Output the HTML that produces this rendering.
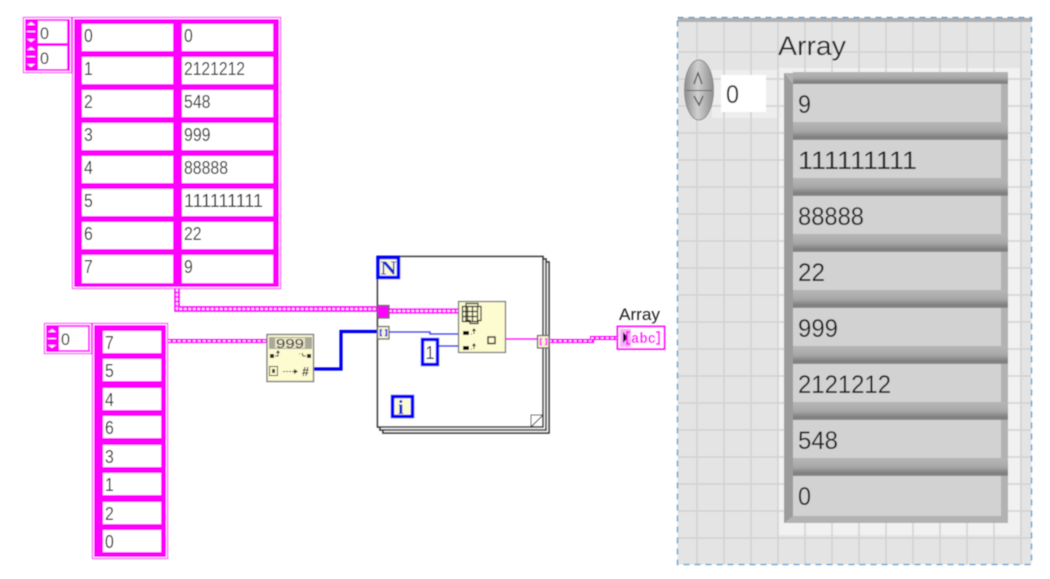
<!DOCTYPE html>
<html><head><meta charset="utf-8"><style>
html,body{margin:0;padding:0;background:#fff;width:1050px;height:579px;overflow:hidden}
svg{display:block}
text{font-family:"Liberation Sans",sans-serif;fill:#1c1c1c}
.t{font-size:18.500px}
.s{font-size:17px}
.p{font-size:25px;fill:#222}
</style></head><body>
<svg width="1050" height="579" viewBox="0 0 1050 579" xmlns="http://www.w3.org/2000/svg">
<defs>
<filter id="b" x="-2%" y="-2%" width="104%" height="104%"><feGaussianBlur stdDeviation="0.4"/></filter>
<linearGradient id="top" x1="0" y1="0" x2="0" y2="1"><stop offset="0" stop-color="#b6b6b6"/><stop offset="0.5" stop-color="#a8a8a8"/><stop offset="0.85" stop-color="#7e7e7e"/><stop offset="1" stop-color="#8c8c8c"/></linearGradient>
<linearGradient id="spin" x1="0" y1="0" x2="1" y2="0"><stop offset="0" stop-color="#8c8c8c"/><stop offset="0.45" stop-color="#d0d0d0"/><stop offset="1" stop-color="#8e8e8e"/></linearGradient>
</defs>
<g filter="url(#b)">
<!-- 2D array index -->
<rect x="23.500" y="17.500" width="48" height="55" fill="#fff" stroke="#ff00ff"/>
<rect x="25" y="19" width="45" height="52" fill="#ff00ff"/>
<rect x="38" y="21" width="29" height="22" fill="#fff"/>
<rect x="38" y="46" width="29" height="23" fill="#fff"/>
<path d="M27 25l4-3 4 3zM27 39l4 3 4-3zM27 50l4-3 4 3zM27 64l4 3 4-3z" fill="#fff"/>
<path d="M27 31.500h8M27 56.500h8" stroke="#fff"/>
<text class="s" x="40" y="39" textLength="9" lengthAdjust="spacingAndGlyphs">0</text><text class="s" x="40" y="64" textLength="9" lengthAdjust="spacingAndGlyphs">0</text>
<!-- 2D array -->
<rect x="72.500" y="17.500" width="208" height="271" fill="#fff" stroke="#ff00ff"/>
<rect x="74" y="19" width="205" height="268" fill="#ff00ff"/>
<g fill="#fff">
<rect x="82" y="24" width="91" height="27"/><rect x="182" y="24" width="91" height="27"/>
<rect x="82" y="57" width="91" height="27"/><rect x="182" y="57" width="91" height="27"/>
<rect x="82" y="90" width="91" height="27"/><rect x="182" y="90" width="91" height="27"/>
<rect x="82" y="123" width="91" height="27"/><rect x="182" y="123" width="91" height="27"/>
<rect x="82" y="156" width="91" height="27"/><rect x="182" y="156" width="91" height="27"/>
<rect x="82" y="189" width="91" height="27"/><rect x="182" y="189" width="91" height="27"/>
<rect x="82" y="222" width="91" height="27"/><rect x="182" y="222" width="91" height="27"/>
<rect x="82" y="255" width="91" height="28"/><rect x="182" y="255" width="91" height="28"/>
</g>
<text class="t" x="84" y="42" textLength="8.800" lengthAdjust="spacingAndGlyphs">0</text><text class="t" x="184" y="42" textLength="8.800" lengthAdjust="spacingAndGlyphs">0</text>
<text class="t" x="84" y="75" textLength="8.800" lengthAdjust="spacingAndGlyphs">1</text><text class="t" x="184" y="75" textLength="61" lengthAdjust="spacingAndGlyphs">2121212</text>
<text class="t" x="84" y="108" textLength="8.800" lengthAdjust="spacingAndGlyphs">2</text><text class="t" x="184" y="108" textLength="26.500" lengthAdjust="spacingAndGlyphs">548</text>
<text class="t" x="84" y="141" textLength="8.800" lengthAdjust="spacingAndGlyphs">3</text><text class="t" x="184" y="141" textLength="26.500" lengthAdjust="spacingAndGlyphs">999</text>
<text class="t" x="84" y="174" textLength="8.800" lengthAdjust="spacingAndGlyphs">4</text><text class="t" x="184" y="174" textLength="44" lengthAdjust="spacingAndGlyphs">88888</text>
<text class="t" x="84" y="207" textLength="8.800" lengthAdjust="spacingAndGlyphs">5</text><text class="t" x="184" y="207" textLength="79" lengthAdjust="spacingAndGlyphs">111111111</text>
<text class="t" x="84" y="240" textLength="8.800" lengthAdjust="spacingAndGlyphs">6</text><text class="t" x="184" y="240" textLength="17.600" lengthAdjust="spacingAndGlyphs">22</text>
<text class="t" x="84" y="273" textLength="8.800" lengthAdjust="spacingAndGlyphs">7</text><text class="t" x="184" y="273" textLength="8.800" lengthAdjust="spacingAndGlyphs">9</text>
<!-- 1D array index -->
<rect x="44.500" y="323.500" width="47" height="30" fill="#fff" stroke="#ff00ff"/>
<rect x="46" y="325" width="44" height="27" fill="#ff00ff"/>
<rect x="59" y="327" width="29" height="23" fill="#fff"/>
<path d="M48 332l4-3 4 3zM48 345l4 3 4-3z" fill="#fff"/><path d="M48 338.500h8" stroke="#fff"/>
<text class="s" x="61" y="345" textLength="9" lengthAdjust="spacingAndGlyphs">0</text>
<!-- 1D array -->
<rect x="92.500" y="323.500" width="75" height="235" fill="#fff" stroke="#ff00ff"/>
<rect x="94" y="325" width="72" height="232" fill="#ff00ff"/>
<g fill="#fff">
<rect x="103" y="331" width="58" height="22"/><rect x="103" y="359" width="58" height="22"/>
<rect x="103" y="388" width="58" height="22"/><rect x="103" y="416" width="58" height="22"/>
<rect x="103" y="445" width="58" height="22"/><rect x="103" y="473" width="58" height="22"/>
<rect x="103" y="502" width="58" height="22"/><rect x="103" y="530" width="58" height="22"/>
</g>
<text class="t" x="105" y="349" textLength="8.800" lengthAdjust="spacingAndGlyphs">7</text><text class="t" x="105" y="377" textLength="8.800" lengthAdjust="spacingAndGlyphs">5</text>
<text class="t" x="105" y="406" textLength="8.800" lengthAdjust="spacingAndGlyphs">4</text><text class="t" x="105" y="434" textLength="8.800" lengthAdjust="spacingAndGlyphs">6</text>
<text class="t" x="105" y="463" textLength="8.800" lengthAdjust="spacingAndGlyphs">3</text><text class="t" x="105" y="491" textLength="8.800" lengthAdjust="spacingAndGlyphs">1</text>
<text class="t" x="105" y="520" textLength="8.800" lengthAdjust="spacingAndGlyphs">2</text><text class="t" x="105" y="548" textLength="8.800" lengthAdjust="spacingAndGlyphs">0</text>
<!-- For loop frames -->
<rect x="383" y="262" width="166" height="171" fill="#fff" stroke="#333" stroke-width="1.600"/>
<rect x="380" y="259" width="166" height="171" fill="#fff" stroke="#333" stroke-width="1.600"/>
<rect x="377.500" y="256.500" width="165.500" height="170.500" fill="#fff" stroke="#333" stroke-width="1.600"/>
<path d="M531 427V415H543M531 427L543 415" fill="#fff" stroke="#333"/>
<!-- wires -->
<path d="M177 289V309H377M389 311H458" fill="none" stroke="#ff00ff" stroke-width="5.500"/>
<path d="M177 289V309H377M389 311H458" fill="none" stroke="#fff" stroke-width="1.700" stroke-dasharray="2.500 2"/>
<path d="M168 341H267" fill="none" stroke="#ff00ff" stroke-width="4"/>
<path d="M168 341H267" fill="none" stroke="#fff" stroke-width="1.200" stroke-dasharray="2.500 2.500"/>
<path d="M549 341H592V338H617" fill="none" stroke="#ff00ff" stroke-width="4"/>
<path d="M549 341H592V338H617" fill="none" stroke="#fff" stroke-width="1.200" stroke-dasharray="2.500 2.500"/>
<path d="M506 339H537" fill="none" stroke="#ff00ff" stroke-width="2"/>
<path d="M314 369H341V331.500H377" fill="none" stroke="#0000ee" stroke-width="3.200"/>
<path d="M389 332H430V334H458M439 346H458" fill="none" stroke="#2222ee" stroke-width="1.500"/>
<!-- Tunnels -->
<rect x="377.500" y="305.500" width="11.500" height="12.500" fill="#ff00ff" stroke="#555" stroke-width="1.300"/>
<rect x="377.500" y="326.500" width="11.500" height="12.500" fill="#f8f4d0" stroke="#666" stroke-width="1.300"/>
<path d="M382 330h-1.500v5.500h1.500M385 330h1.500v5.500h-1.500" fill="none" stroke="#0000ee" stroke-width="1.400"/>
<rect x="537.500" y="335.500" width="11.500" height="12.500" fill="#f8f4d0" stroke="#666" stroke-width="1.300"/>
<path d="M542 339h-1.500v5.500h1.500M545 339h1.500v5.500h-1.500" fill="none" stroke="#ff00ff" stroke-width="1.400"/>
<!-- N box -->
<rect x="378" y="257.500" width="20.500" height="20" fill="#fdfbd5" stroke="#0000ff" stroke-width="3.500"/>
<text x="380.500" y="274.500" style="font-family:'Liberation Serif',serif;font-size:20px;font-weight:bold;fill:#0a28d0" textLength="16" lengthAdjust="spacingAndGlyphs">N</text>
<!-- i box -->
<rect x="392.500" y="396.500" width="20" height="20" fill="#fdfbd5" stroke="#0000ff" stroke-width="3.500"/>
<text x="398" y="414" style="font-family:'Liberation Serif',serif;font-size:20px;font-weight:bold;fill:#0a28d0">i</text>
<!-- constant 1 -->
<rect x="422.500" y="339.500" width="15" height="25" fill="#fff" stroke="#0000ff" stroke-width="3.400"/>
<text x="425.500" y="359" style="font-size:18px" textLength="9" lengthAdjust="spacingAndGlyphs">1</text>
<!-- spreadsheet string node -->
<rect x="267" y="334.500" width="46.500" height="47" fill="#fdfbd0" stroke="#777" stroke-width="1.300"/>
<rect x="269" y="337" width="43" height="12" fill="#a8a89c"/>
<rect x="275" y="338" width="30" height="10" fill="#e8e6c6"/>
<text x="276" y="348" style="font-size:13px;fill:#222" textLength="28" lengthAdjust="spacingAndGlyphs">999</text>
<rect x="270" y="354" width="4" height="4" fill="#222"/><path d="M275 356h3V352M276.500 353l1.500-2 1.500 2" fill="none" stroke="#222"/>
<rect x="307" y="354" width="4" height="4" fill="#222"/><path d="M306 356h-3l-1-3M299 354h1" fill="none" stroke="#222"/>
<rect x="269.500" y="366.500" width="8" height="9" fill="none" stroke="#444"/><rect x="272" y="369" width="3" height="4" fill="#444"/>
<path d="M283 371.500h13" stroke="#444" stroke-dasharray="2 1"/><path d="M294 369l4 2.500-4 2.500z" fill="#333"/>
<text x="302" y="376" style="font-size:12.500px;font-weight:bold;fill:#222">#</text>
<!-- index array node -->
<rect x="458.500" y="301.500" width="47" height="51" fill="#fdfbd0" stroke="#777" stroke-width="1.300"/>
<path d="M466 303.500h12v3h3v14h-3v3h-8v-3h-4zM462.500 306.500h15v15h-15zM462.500 311.500h15M462.500 316.500h15M467.500 306.500v15M472.500 306.500v15" fill="#fdfbd0" stroke="#222" stroke-width="1.200"/>
<rect x="463" y="331" width="6" height="4" fill="#111"/><path d="M471 334h1M474 334v-4M472.500 331l1.500-2 1.500 2" fill="none" stroke="#111"/>
<rect x="463" y="346" width="6" height="4" fill="#111"/><path d="M471 349h1M474 349v-4M472.500 346l1.500-2 1.500 2" fill="none" stroke="#111"/>
<rect x="488" y="337" width="7" height="6.500" fill="none" stroke="#222" stroke-width="1.400"/>
<!-- indicator -->
<text x="619" y="320" style="font-size:16.500px;fill:#222" textLength="41" lengthAdjust="spacingAndGlyphs">Array</text>
<rect x="617.500" y="326.500" width="47" height="22.500" fill="#fff" stroke="#ff00ff" stroke-width="1.800"/>
<rect x="620" y="329" width="11" height="18" fill="#fbb0fb"/>
<path d="M623 332l5 5.500-5 5.500z" fill="#111"/>
<path d="M630 332h-3v12h3M656 332h3v12h-3" fill="none" stroke="#ff00ff" stroke-width="1.700"/>
<text x="631" y="343" style="font-family:'Liberation Mono',monospace;font-weight:bold;font-size:15px;fill:#ff00ff" textLength="25" lengthAdjust="spacingAndGlyphs">abc</text>
<!-- Front panel -->
<rect x="677.500" y="17.500" width="354" height="547" fill="#e4e4e4"/>
<rect x="678" y="18" width="353" height="4" fill="#b0b0b0"/>
<!-- light panel (under the grid) -->
<rect x="778" y="68" width="242" height="467" fill="#f1f1f1"/>
<rect x="712" y="70" width="68" height="48" fill="#eeeeee"/>
<path d="M697 22V565M724 22V565M751 22V565M778 22V565M805 22V565M832 22V565M859 22V565M886 22V565M913 22V565M940 22V565M967 22V565M994 22V565M1021 22V565M678 52H1031M678 79H1031M678 106H1031M678 133H1031M678 160H1031M678 187H1031M678 214H1031M678 241H1031M678 268H1031M678 295H1031M678 322H1031M678 349H1031M678 376H1031M678 403H1031M678 430H1031M678 457H1031M678 484H1031M678 511H1031M678 538H1031" stroke="#d2d2d2" stroke-width="1.500" fill="none"/>
<!-- cells frame -->
<rect x="784" y="73" width="224" height="450" fill="#b2b2b2"/>
<path d="M784 73V523L793 516V84Z" fill="#9c9c9c"/>
<g fill="url(#top)">
<rect x="793" y="72" width="215" height="12"/><rect x="793" y="122" width="215" height="18"/>
<rect x="793" y="178" width="215" height="18"/><rect x="793" y="234" width="215" height="18"/>
<rect x="793" y="290" width="215" height="18"/><rect x="793" y="346" width="215" height="18"/>
<rect x="793" y="402" width="215" height="18"/><rect x="793" y="458" width="215" height="18"/>
</g>
<g fill="#d2d2d2">
<rect x="793" y="84" width="208" height="38"/><rect x="793" y="140" width="208" height="38"/>
<rect x="793" y="196" width="208" height="38"/><rect x="793" y="252" width="208" height="38"/>
<rect x="793" y="308" width="208" height="38"/><rect x="793" y="364" width="208" height="38"/>
<rect x="793" y="420" width="208" height="38"/><rect x="793" y="476" width="208" height="40"/>
</g>
<text class="p" x="798" y="113" textLength="13" lengthAdjust="spacingAndGlyphs">9</text>
<text class="p" x="798" y="169" textLength="119" lengthAdjust="spacingAndGlyphs">111111111</text>
<text class="p" x="798" y="225" textLength="66" lengthAdjust="spacingAndGlyphs">88888</text>
<text class="p" x="798" y="281" textLength="27" lengthAdjust="spacingAndGlyphs">22</text>
<text class="p" x="798" y="337" textLength="40" lengthAdjust="spacingAndGlyphs">999</text>
<text class="p" x="798" y="393" textLength="93" lengthAdjust="spacingAndGlyphs">2121212</text>
<text class="p" x="798" y="449" textLength="40" lengthAdjust="spacingAndGlyphs">548</text>
<text class="p" x="798" y="505" textLength="13" lengthAdjust="spacingAndGlyphs">0</text>
<text x="778" y="55" style="font-size:27px;fill:#2a2a2a" textLength="68" lengthAdjust="spacingAndGlyphs">Array</text>
<!-- index control -->
<ellipse cx="699" cy="90" rx="14.500" ry="30" fill="url(#spin)" stroke="#8a8a8a"/>
<path d="M686 90.500h26" stroke="#666" fill="none"/>
<path d="M694 84l4-11 4 11M694 96l5 9 4-9" fill="none" stroke="#555" stroke-width="1.300"/>
<rect x="721" y="75" width="45" height="37" fill="#fff"/>
<text class="p" x="726" y="103" textLength="13" lengthAdjust="spacingAndGlyphs">0</text>
<!-- dashed border -->
<rect x="677.500" y="17.500" width="354" height="547" fill="none" stroke="#5a9bd0" stroke-width="1.300" stroke-dasharray="6 5"/>
</g>
</svg>
</body></html>
